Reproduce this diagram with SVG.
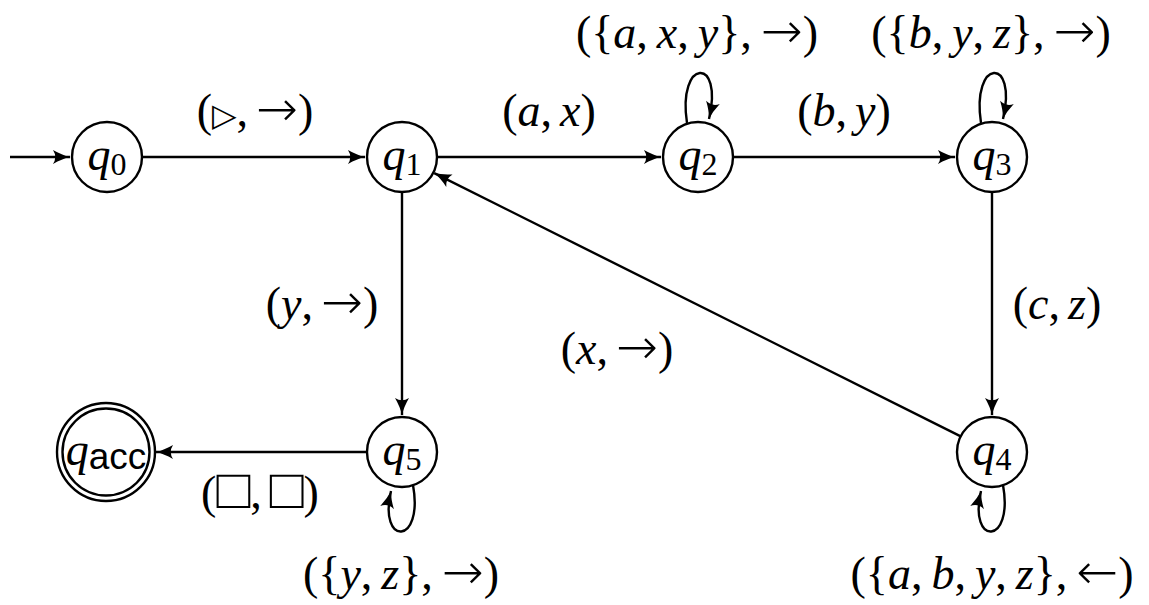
<svg xmlns="http://www.w3.org/2000/svg" width="1149" height="605" viewBox="0 0 1149 605">
<style>
.st{fill:#fff;stroke:#000;stroke-width:2.4}
.e{fill:none;stroke:#000;stroke-width:2.4;marker-end:url(#ah)}
.lbl{font-family:'Liberation Serif','DejaVu Serif',serif;font-size:46px;fill:#000;text-anchor:middle}
.i{font-style:italic}
.ar{font-family:'DejaVu Sans',sans-serif;font-size:50px;font-weight:200}
.bx{font-family:'DejaVu Sans',sans-serif;font-size:56px;font-weight:200}
.q{font-family:'Liberation Serif','DejaVu Serif',serif;font-size:46px;fill:#000;text-anchor:middle}
.sub{font-size:32px;font-style:normal}
.sf{font-family:'Liberation Sans','DejaVu Sans',sans-serif;font-size:37px;font-style:normal}
</style>
<defs>
<marker id="ah" markerUnits="userSpaceOnUse" markerWidth="20" markerHeight="18" viewBox="0 0 20 18" refX="18" refY="9" orient="auto">
<path d="M1,2 Q10,7.2 18,9 Q10,10.8 1,16 Q5.5,9 1,2 Z" fill="#000"/>
</marker>
</defs>
<rect width="1149" height="605" fill="#fff"/>
<g id="connectors">
<path class="e" d="M10,157 L70,157"/>
<path class="e" d="M142,157 L365,157"/>
<path class="e" d="M437,157 L661,157"/>
<path class="e" d="M733,157 L955,157"/>
<path class="e" d="M992,192 L992,415"/>
<path class="e" d="M402,192 L402,415"/>
<path class="e" d="M960.7,436.4 L434.2,173.1"/>
<path class="e" d="M367,452 L156,452"/>
<path class="e" d="M687,123 C677,58 724,56 709,119"/>
<path class="e" d="M981,123 C971,58 1018,56 1003,119"/>
<path class="e" d="M413,485 C424,546 378,546 391,491"/>
<path class="e" d="M1003,485 C1014,546 968,546 981,491"/>
<text class="lbl" x="255" y="126">(<tspan font-family="'DejaVu Sans',sans-serif" font-size="32">▷</tspan>,<tspan class="ar" dx="8">→</tspan>)</text>
<text class="lbl" x="549" y="126">(<tspan class="i">a</tspan>,<tspan class="i" dx="8">x</tspan>)</text>
<text class="lbl" x="844" y="126">(<tspan class="i">b</tspan>,<tspan class="i" dx="8">y</tspan>)</text>
<text class="lbl" x="697" y="48">({<tspan class="i">a</tspan>,<tspan class="i" dx="9">x</tspan>,<tspan class="i" dx="9">y</tspan>},<tspan class="ar" dx="9">→</tspan>)</text>
<text class="lbl" x="991" y="48">({<tspan class="i">b</tspan>,<tspan class="i" dx="9">y</tspan>,<tspan class="i" dx="9">z</tspan>},<tspan class="ar" dx="9">→</tspan>)</text>
<text class="lbl" x="322" y="319">(<tspan class="i">y</tspan>,<tspan class="ar" dx="8">→</tspan>)</text>
<text class="lbl" x="1057" y="319">(<tspan class="i">c</tspan>,<tspan class="i" dx="8">z</tspan>)</text>
<text class="lbl" x="617" y="364">(<tspan class="i">x</tspan>,<tspan class="ar" dx="8">→</tspan>)</text>
<text class="lbl" x="260" y="508">(<tspan class="bx">□</tspan>,<tspan class="bx" dx="8">□</tspan>)</text>
<text class="lbl" x="401" y="589">({<tspan class="i">y</tspan>,<tspan class="i" dx="9">z</tspan>},<tspan class="ar" dx="9">→</tspan>)</text>
<text class="lbl" x="992" y="589">({<tspan class="i">a</tspan>,<tspan class="i" dx="9">b</tspan>,<tspan class="i" dx="9">y</tspan>,<tspan class="i" dx="9">z</tspan>},<tspan class="ar" dx="9">←</tspan>)</text>
</g>
<g id="q0"><circle class="st" cx="107" cy="157" r="35"/><text class="q" x="107" y="170"><tspan class="i">q</tspan><tspan class="sub" dy="5">0</tspan></text></g>
<g id="q1"><circle class="st" cx="402" cy="157" r="35"/><text class="q" x="402" y="170"><tspan class="i">q</tspan><tspan class="sub" dy="5">1</tspan></text></g>
<g id="q2"><circle class="st" cx="698" cy="157" r="35"/><text class="q" x="698" y="170"><tspan class="i">q</tspan><tspan class="sub" dy="5">2</tspan></text></g>
<g id="q3"><circle class="st" cx="992" cy="157" r="35"/><text class="q" x="992" y="170"><tspan class="i">q</tspan><tspan class="sub" dy="5">3</tspan></text></g>
<g id="q4"><circle class="st" cx="992" cy="452" r="35"/><text class="q" x="992" y="465"><tspan class="i">q</tspan><tspan class="sub" dy="5">4</tspan></text></g>
<g id="q5"><circle class="st" cx="402" cy="452" r="35"/><text class="q" x="402" y="465"><tspan class="i">q</tspan><tspan class="sub" dy="5">5</tspan></text></g>
<g id="qacc"><circle class="st" cx="106" cy="452" r="49"/><circle class="st" cx="106" cy="452" r="43.5"/><text class="q" x="106" y="465"><tspan class="i">q</tspan><tspan class="sf" dy="4">acc</tspan></text></g>
</svg>
